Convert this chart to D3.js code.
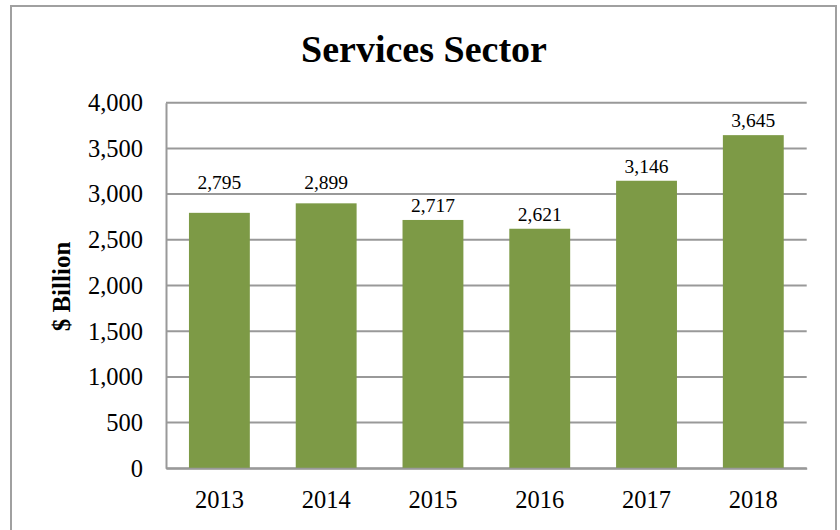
<!DOCTYPE html>
<html>
<head>
<meta charset="utf-8">
<script src="https://cdn.jsdelivr.net/npm/d3@7"></script>
<style>
  body { margin: 0; background: #fff; }
  text { font-family: "Liberation Serif", "Times New Roman", serif; fill: #000; }
</style>
</head>
<body>
<svg id="chart" width="840" height="530"></svg>
<script>
// Services sector output, $ billion
const years = ["2013", "2014", "2015", "2016", "2017", "2018"];
const values = [2795, 2899, 2717, 2621, 3146, 3645];
const yTicks = [0, 500, 1000, 1500, 2000, 2500, 3000, 3500, 4000];

const W = 840, H = 530;
const margin = { left: 166, right: 33.3, top: 102.7, bottom: 61.7 };
const svg = d3.select("#chart");

// outer frame
svg.append("rect")
  .attr("x", 11).attr("y", 6)
  .attr("width", 825).attr("height", 540)
  .attr("fill", "none").attr("stroke", "#a0a0a0").attr("stroke-width", 2);

const x = d3.scaleBand()
  .domain(years)
  .range([margin.left, W - margin.right])
  .paddingInner(0.43).paddingOuter(0.215);

const y = d3.scaleLinear()
  .domain([0, 4000])
  .range([H - margin.bottom, margin.top]);

// gridlines
svg.append("g")
  .selectAll("line")
  .data(yTicks)
  .join("line")
  .attr("x1", margin.left).attr("x2", W - margin.right)
  .attr("y1", d => y(d)).attr("y2", d => y(d))
  .attr("stroke", "#999").attr("stroke-width", 2);

// bars
svg.append("g")
  .selectAll("rect")
  .data(values)
  .join("rect")
  .attr("x", (d, i) => x(years[i]))
  .attr("width", x.bandwidth())
  .attr("y", d => y(d))
  .attr("height", d => y(0) - y(d))
  .attr("fill", "#7d9a46");

// axes
const yAxis = svg.append("g")
  .attr("transform", `translate(${margin.left},0)`)
  .call(d3.axisLeft(y).tickValues(yTicks).tickFormat(d3.format(",")).tickSize(0).tickPadding(23));
yAxis.select(".domain").attr("stroke", "#999").attr("stroke-width", 2);
yAxis.selectAll("text").style("font-size", "24.5px").attr("font-family", null);

const xAxis = svg.append("g")
  .attr("transform", `translate(0,${y(0)})`)
  .call(d3.axisBottom(x).tickSize(0).tickPadding(22));
xAxis.select(".domain").attr("stroke", "#999").attr("stroke-width", 2);
xAxis.selectAll("text").style("font-size", "24.5px").attr("font-family", null);

// value labels: sit just above each bar, lifted clear of any gridline they would cross
const labelGap = 8, capH = 13;
svg.append("g")
  .selectAll("text")
  .data(values)
  .join("text")
  .attr("x", (d, i) => x(years[i]) + x.bandwidth() / 2)
  .attr("y", d => {
    let base = y(d) - labelGap;
    const hit = yTicks.map(t => y(t)).find(g => g < base + 1 && g > base - capH - 1);
    if (hit !== undefined) base = hit - 5;
    return base;
  })
  .attr("text-anchor", "middle")
  .style("font-size", "19.5px")
  .text(d => d3.format(",")(d));

// title
svg.append("text")
  .attr("x", 424).attr("y", 61.5)
  .attr("text-anchor", "middle")
  .style("font-size", "38px").style("font-weight", "bold")
  .text("Services Sector");

// y-axis title
svg.append("text")
  .attr("transform", "translate(70,286.5) rotate(-90)")
  .attr("text-anchor", "middle")
  .style("font-size", "25px").style("font-weight", "bold")
  .text("$ Billion");
</script>
</body>
</html>
